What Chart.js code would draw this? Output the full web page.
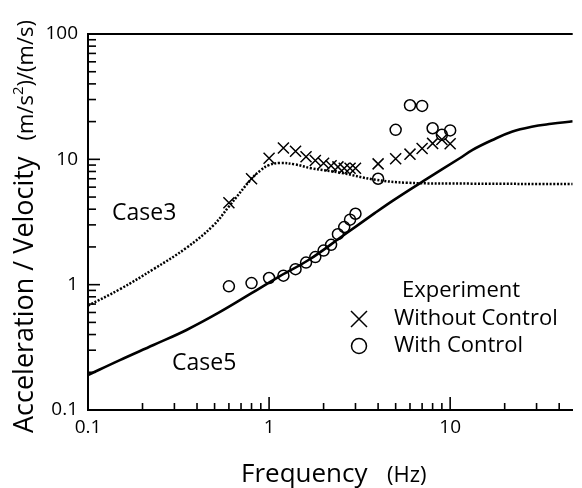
<!DOCTYPE html>
<html>
<head>
<meta charset="utf-8">
<script src="https://cdn.jsdelivr.net/npm/chart.js@4.4.0/dist/chart.umd.min.js"></script>
<style>
  html, body { margin: 0; padding: 0; background: #fff; }
  canvas { display: block; }
</style>
</head>
<body>
<canvas id="chart" width="582" height="488"></canvas>
<script>
// calculated curves
const case3Freq = [0.1, 0.15, 0.23, 0.35, 0.49, 0.6, 0.8, 0.9, 1.0, 1.15, 1.4, 1.7, 2.5, 3.8, 5.8, 13, 47.5];
const case3Acc  = [0.68, 0.92, 1.33, 1.97, 2.95, 4.2, 7.0, 8.2, 9.0, 9.35, 9.1, 8.5, 7.8, 6.9, 6.5, 6.4, 6.35];
const case5Freq = [0.1, 0.15, 0.23, 0.35, 0.53, 0.8, 1.1, 1.66, 2.52, 3.83, 4.9, 7.1, 11.3, 13.3, 17, 21.9, 28.2, 36.2, 47.5];
const case5Acc  = [0.19, 0.25, 0.33, 0.435, 0.6, 0.855, 1.13, 1.58, 2.42, 3.72, 4.75, 6.7, 10.2, 11.9, 14.2, 16.6, 18.2, 19.2, 20.1];

// experiment
const expFreq = [0.6, 0.8, 1.0, 1.2, 1.4, 1.6, 1.8, 2.0, 2.2, 2.4, 2.6, 2.8, 3.0, 4, 5, 6, 7, 8, 9, 10];
const withoutControl = [4.5, 7.0, 10.2, 12.3, 11.6, 10.5, 9.8, 9.3, 8.9, 8.7, 8.5, 8.5, 8.5, 9.2, 10.1, 11.0, 12.2, 13.4, 14.4, 13.3];
const withControl = [0.97, 1.03, 1.13, 1.18, 1.33, 1.5, 1.66, 1.87, 2.08, 2.53, 2.88, 3.3, 3.68, 7.0, 17.2, 27, 26.7, 17.7, 15.7, 17.0];

const xMin = 0.1, xMax = 47.5;
const yMin = 0.1, yMax = 100;

const FONT = '"Open Sans", sans-serif';
const toPoints = (xs, ys) => xs.map((x, i) => ({ x: x, y: ys[i] }));
const isDecade = v => Math.abs(Math.log10(v) - Math.round(Math.log10(v))) < 1e-6;
const decadeLabel = v => isDecade(v) ? (v < 1 ? v.toFixed(1) : v.toFixed(0)) : '';

function minorValues(lo, hi) {
  const out = [];
  for (let d = lo; d <= hi * 1.0001; d *= 10) {
    for (let m = 1; m <= 9; m++) {
      const v = d * m;
      if (v >= lo * 0.9999 && v <= hi * 1.0001) out.push(v);
    }
  }
  return out;
}

const decorations = {
  id: 'decorations',
  afterDraw(chart) {
    const ctx = chart.ctx;
    const area = chart.chartArea;
    const sx = chart.scales.x, sy = chart.scales.y;
    ctx.save();
    ctx.strokeStyle = '#000';
    ctx.fillStyle = '#000';

    // inward ticks
    ctx.lineWidth = 1.6;
    minorValues(xMin, xMax).forEach(v => {
      const px = sx.getPixelForValue(v);
      const len = isDecade(v) ? 13 : 7;
      ctx.beginPath();
      ctx.moveTo(px, area.bottom);
      ctx.lineTo(px, area.bottom - len);
      ctx.stroke();
    });
    minorValues(yMin, yMax).forEach(v => {
      const py = sy.getPixelForValue(v);
      const len = isDecade(v) ? 12 : 8;
      ctx.beginPath();
      ctx.moveTo(area.left, py);
      ctx.lineTo(area.left + len, py);
      ctx.stroke();
    });

    // top frame line
    ctx.lineWidth = 2;
    ctx.beginPath();
    ctx.moveTo(area.left, area.top);
    ctx.lineTo(area.right, area.top);
    ctx.stroke();

    // curve labels
    ctx.font = '23px ' + FONT;
    ctx.textBaseline = 'middle';
    ctx.textAlign = 'left';
    ctx.fillText('Case3', 112, 213);
    ctx.fillText('Case5', 172, 363);

    // legend
    ctx.font = '22px ' + FONT;
    ctx.fillText('Experiment', 402, 291);
    ctx.fillText('Without Control', 394, 319);
    ctx.fillText('With Control', 394, 346);
    ctx.lineWidth = 1.5;
    ctx.beginPath();
    ctx.moveTo(351, 311); ctx.lineTo(367, 327);
    ctx.moveTo(367, 311); ctx.lineTo(351, 327);
    ctx.stroke();
    ctx.beginPath();
    ctx.arc(359, 346, 7.5, 0, Math.PI * 2);
    ctx.stroke();

    // x title
    ctx.textBaseline = 'alphabetic';
    ctx.font = '26px ' + FONT;
    ctx.fillText('Frequency', 241, 482);
    ctx.font = '22px ' + FONT;
    ctx.fillText('(Hz)', 387, 482);

    // y title (rotated)
    ctx.translate(33, 433);
    ctx.rotate(-Math.PI / 2);
    ctx.font = '27px ' + FONT;
    ctx.fillText('Acceleration / Velocity', 0, 0);
    let u = ctx.measureText('Acceleration / Velocity').width + 16;
    ctx.font = '22px ' + FONT;
    ctx.fillText('(m/s', u, 0);
    u += ctx.measureText('(m/s').width;
    ctx.font = '15px ' + FONT;
    ctx.fillText('2', u, -10);
    u += ctx.measureText('2').width;
    ctx.font = '22px ' + FONT;
    ctx.fillText(')/(m/s)', u, 0);
    ctx.restore();
  }
};

new Chart(document.getElementById('chart'), {
  type: 'scatter',
  data: {
    datasets: [
      {
        label: 'Case5',
        data: toPoints(case5Freq, case5Acc),
        showLine: true,
        borderColor: '#000',
        borderWidth: 2.6,
        pointRadius: 0,
        tension: 0.4
      },
      {
        label: 'Case3',
        data: toPoints(case3Freq, case3Acc),
        showLine: true,
        borderColor: '#000',
        borderWidth: 2.5,
        borderDash: [2, 1.6],
        pointRadius: 0,
        tension: 0.4
      },
      {
        label: 'Without Control',
        data: toPoints(expFreq, withoutControl),
        pointStyle: 'crossRot',
        pointRadius: 7.8,
        pointBorderWidth: 1.5,
        borderColor: '#000',
        backgroundColor: 'rgba(0,0,0,0)'
      },
      {
        label: 'With Control',
        data: toPoints(expFreq, withControl),
        pointStyle: 'circle',
        pointRadius: 5.5,
        pointBorderWidth: 1.5,
        borderColor: '#000',
        backgroundColor: 'rgba(0,0,0,0)'
      }
    ]
  },
  options: {
    responsive: false,
    animation: false,
    layout: { padding: { top: 34, right: 0, bottom: 0, left: 0 } },
    plugins: {
      legend: { display: false },
      tooltip: { enabled: false }
    },
    scales: {
      x: {
        type: 'logarithmic',
        min: xMin,
        max: xMax,
        grid: { display: false, drawTicks: false },
        border: { display: true, color: '#000', width: 2 },
        ticks: {
          autoSkip: false,
          maxRotation: 0,
          padding: 6,
          color: '#000',
          font: { family: FONT, size: 19 },
          callback: v => decadeLabel(v)
        },
        afterFit: s => { s.height = 78; }
      },
      y: {
        type: 'logarithmic',
        min: yMin,
        max: yMax,
        grid: { display: false, drawTicks: false },
        border: { display: true, color: '#000', width: 2 },
        ticks: {
          autoSkip: false,
          padding: 10,
          color: '#000',
          font: { family: FONT, size: 19 },
          callback: v => decadeLabel(v)
        },
        afterFit: s => { s.width = 88; }
      }
    }
  },
  plugins: [decorations]
});
</script>
</body>
</html>
